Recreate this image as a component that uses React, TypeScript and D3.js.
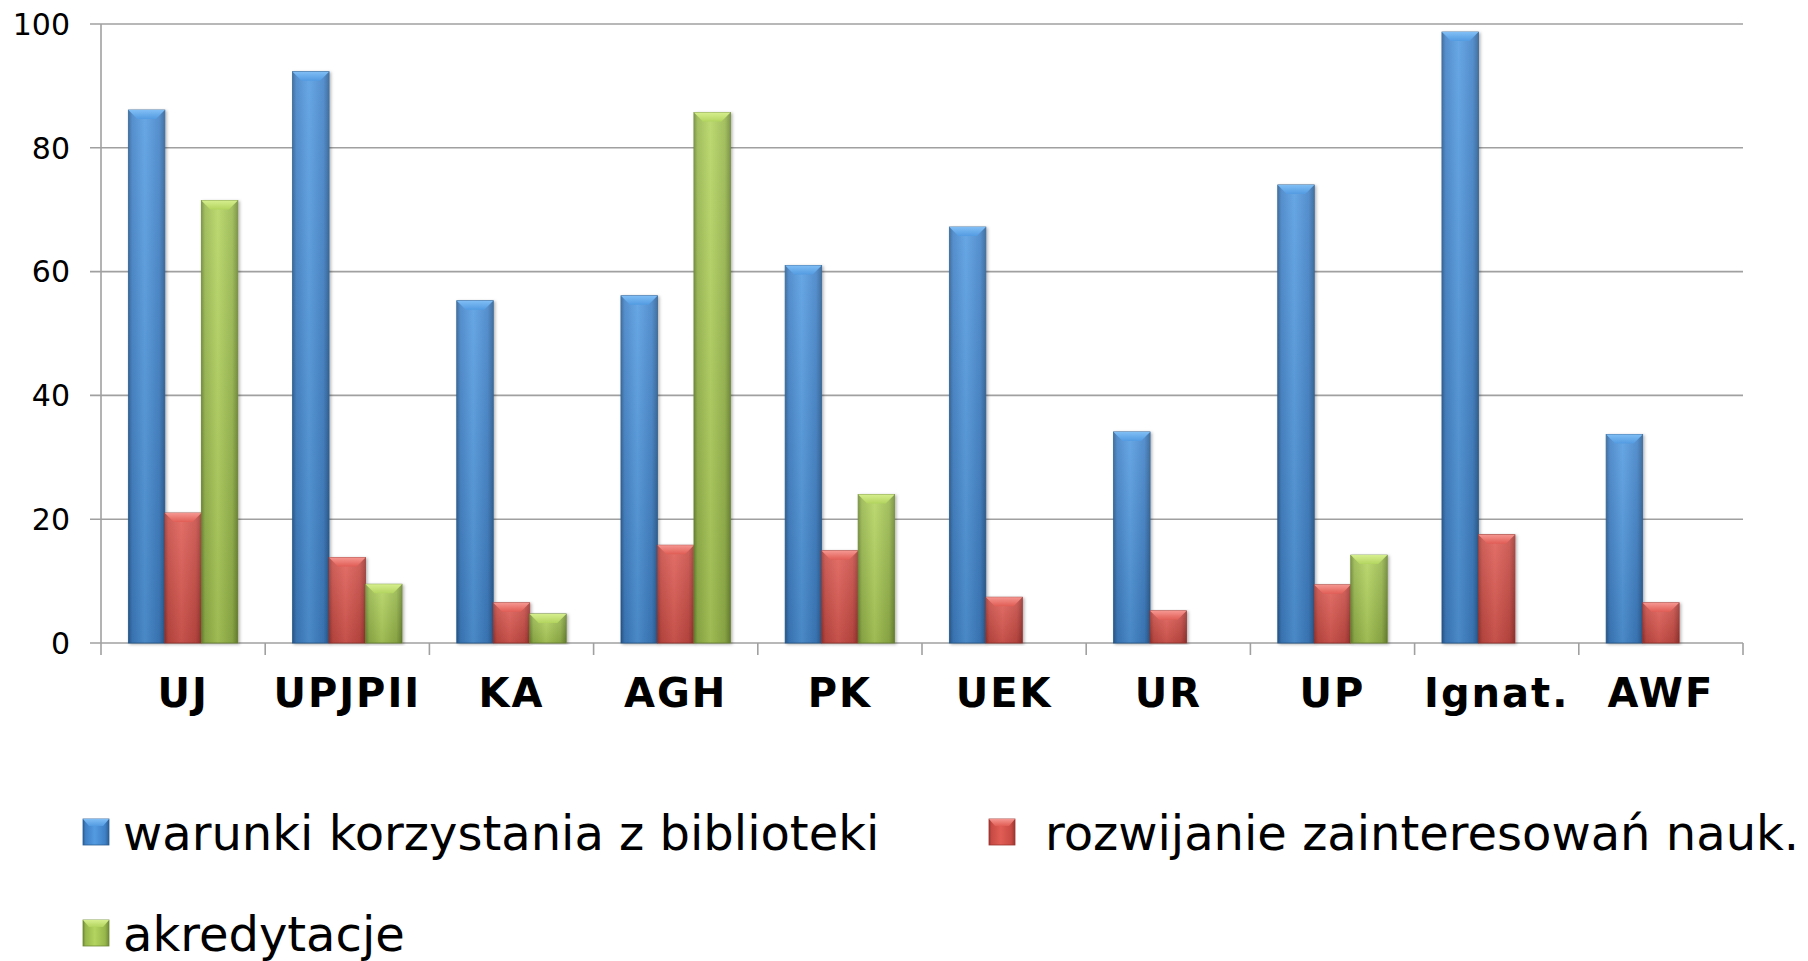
import React from 'react';
import * as d3 from 'd3';

// values
const categories = ["UJ", "UPJPII", "KA", "AGH", "PK", "UEK", "UR", "UP", "Ignat.", "AWF"];
const warunki = [86.1, 92.3, 55.3, 56.1, 61.0, 67.2, 34.1, 74.0, 98.7, 33.7];
const rozwijanie = [21.0, 13.8, 6.5, 15.8, 14.9, 7.4, 5.2, 9.4, 17.5, 6.5];
const akredytacje = [71.5, 9.5, 4.7, 85.7, 24.0, null, null, 14.2, null, null];
const seriesNames = ["warunki korzystania z biblioteki", "rozwijanie zainteresowań nauk.", "akredytacje"];
const yTicks = [0, 20, 40, 60, 80, 100];

const W = 1808;
const H = 961;

// colours for each series: [edge dark, body, light centre, cap]
const palette = [
  { dark: "#2c5f94", body: "#3f80c6", light: "#539be1", cap: "#80bef5" },
  { dark: "#9c3631", body: "#c84b44", light: "#e05d55", cap: "#f59690" },
  { dark: "#6f8a35", body: "#97b74b", light: "#b3d45f", cap: "#d6ef8e" },
];

const App = () => {
  const allSeries = [warunki, rozwijanie, akredytacje];

  const x = d3.scaleBand<string>().domain(categories).range([101, 1743]).padding(0);
  const xs = d3.scaleBand<number>().domain([0, 1, 2]).range([0, x.bandwidth()])
    .paddingInner(0).paddingOuter(0.75);
  const y = d3.scaleLinear().domain([0, 100]).range([643, 24]);

  const bw = xs.bandwidth();
  const bevel = 9;

  return (
    <svg width={W} height={H} style={{ position: 'absolute', left: 0, top: 0, background: '#fff' }}
      fontFamily="'DejaVu Sans', Verdana, sans-serif">
      <defs>
        {palette.map((p, i) => (
          <React.Fragment key={i}>
            <linearGradient id={`h${i}`} x1="0" x2="1" y1="0" y2="0">
              <stop offset="0%" stopColor={p.dark} />
              <stop offset="10%" stopColor={p.body} />
              <stop offset="45%" stopColor={p.light} />
              <stop offset="85%" stopColor={p.body} />
              <stop offset="100%" stopColor={p.dark} />
            </linearGradient>
            <linearGradient id={`v${i}`} x1="0" x2="0" y1="0" y2="1">
              <stop offset="0%" stopColor="#fff" stopOpacity={0.12} />
              <stop offset="100%" stopColor="#000" stopOpacity={0.12} />
            </linearGradient>
            <linearGradient id={`c${i}`} x1="0" x2="0" y1="0" y2="1">
              <stop offset="0%" stopColor={p.cap} />
              <stop offset="100%" stopColor={p.light} />
            </linearGradient>
          </React.Fragment>
        ))}
        <filter id="shadow" x="-20%" y="-5%" width="140%" height="110%">
          <feDropShadow dx="1.5" dy="1" stdDeviation="1.5" floodColor="#000" floodOpacity="0.3" />
        </filter>
      </defs>

      {/* gridlines + y ticks */}
      {yTicks.map(t => (
        <line key={t} x1={90} x2={1743} y1={y(t)} y2={y(t)} stroke="#a0a0a0" strokeWidth={1.6} />
      ))}
      {yTicks.map(t => (
        <text key={'l' + t} x={70} y={y(t)} dy="0.36em" textAnchor="end" fontSize={30} fill="#000">{t}</text>
      ))}
      <line x1={101} x2={101} y1={y(100)} y2={655} stroke="#a0a0a0" strokeWidth={1.6} />
      {categories.map(c => (
        <line key={'t' + c} x1={x(c)! + x.bandwidth()} x2={x(c)! + x.bandwidth()} y1={643} y2={655}
          stroke="#a0a0a0" strokeWidth={1.6} />
      ))}

      {/* bars */}
      {categories.map((c, ci) => (
        <g key={c}>
          {allSeries.map((s, si) => {
            const v = s[ci];
            if (v == null) return null;
            const bx = x(c)! + xs(si)!;
            const by = y(v);
            const bh = y(0) - by;
            const cap = Math.min(bevel, bh);
            return (
              <g key={si} filter="url(#shadow)">
                <rect x={bx} y={by} width={bw} height={bh} fill={`url(#h${si})`} stroke={palette[si].dark} strokeWidth={0.8} />
                <rect x={bx} y={by} width={bw} height={bh} fill={`url(#v${si})`} />
                <polygon
                  points={`${bx},${by} ${bx + bw},${by} ${bx + bw - bevel},${by + cap} ${bx + bevel},${by + cap}`}
                  fill={`url(#c${si})`} />
              </g>
            );
          })}
        </g>
      ))}

      {/* category labels */}
      {categories.map(c => (
        <text key={'c' + c} x={x(c)! + x.bandwidth() / 2} y={707} textAnchor="middle"
          fontSize={40} fontWeight="bold" letterSpacing={2} fill="#000">{c}</text>
      ))}

      {/* legend */}
      {seriesNames.map((name, i) => {
        const lx = [83, 989, 83][i];
        const ly = [819, 819, 920][i];
        const tx = [123, 1045, 123][i];
        return (
          <g key={name}>
            <rect x={lx} y={ly} width={26} height={26} fill={`url(#h${i})`} stroke={palette[i].dark} strokeWidth={0.8} />
            <polygon points={`${lx},${ly} ${lx + 26},${ly} ${lx + 20},${ly + 7} ${lx + 6},${ly + 7}`} fill={`url(#c${i})`} />
            <text x={tx} y={ly + 31} fontSize={48} fill="#000">{name}</text>
          </g>
        );
      })}
    </svg>
  );
};

export default App;
